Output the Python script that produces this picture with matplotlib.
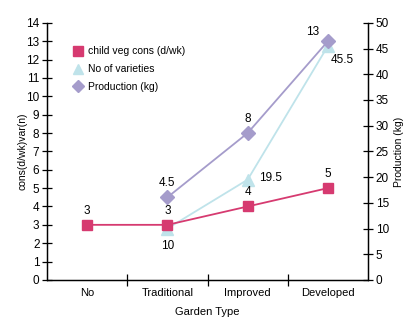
import numpy as np
import matplotlib.pyplot as plt

plt.rcParams['font.family'] = ['Liberation Sans Narrow', 'Liberation Sans', 'DejaVu Sans']

garden = ["No", "Traditional", "Improved", "Developed"]
veg_cons = [3, 3, 4, 5]            # d/wk, left axis
varieties = [None, 10, 19.5, 45.5]  # count, right axis
production = [None, 4.5, 8, 13]     # kg, plotted against left axis

c_cons = "#d63a70"
c_var = "#bfe3ea"
c_prod = "#a59ccb"

fig = plt.figure(figsize=(4.13, 3.27), dpi=100)
ax = fig.add_axes([0.114, 0.144, 0.777, 0.786])
ax2 = ax.twinx()
ax.set_zorder(ax2.get_zorder() + 1)
ax.patch.set_visible(False)

x = np.arange(len(garden))
xv = [i for i, v in zip(x, varieties) if v is not None]
vv = [v for v in varieties if v is not None]
xp = [i for i, v in zip(x, production) if v is not None]
pv = [v for v in production if v is not None]

lv, = ax2.plot(xv, vv, color=c_var, lw=1.3, marker="^", ms=8, label="No of varieties")
lp, = ax.plot(xp, pv, color=c_prod, lw=1.3, marker="D", ms=7, label="Production (kg)")
lc, = ax.plot(x, veg_cons, color=c_cons, lw=1.3, marker="s", ms=7.5, label="child veg cons (d/wk)")

fs = 8.5
for i, v in zip(x, veg_cons):
    ax.annotate(f"{v:g}", (i, v), xytext=(0, 6), textcoords="offset points",
                ha="center", va="bottom", fontsize=fs)
offs_v = [(0, -8, "center", "top"), (8, 1, "left", "center"), (2, -6, "left", "top")]
for i, v, (dx, dy, ha, va) in zip(xv, vv, offs_v):
    ax2.annotate(f"{v:g}", (i, v), xytext=(dx, dy), textcoords="offset points",
                 ha=ha, va=va, fontsize=fs)
offs_p = [(0, 6, "center", "bottom"), (0, 6, "center", "bottom"), (-6, 2, "right", "bottom")]
for i, v, (dx, dy, ha, va) in zip(xp, pv, offs_p):
    ax.annotate(f"{v:g}", (i, v), xytext=(dx, dy), textcoords="offset points",
                ha=ha, va=va, fontsize=fs)

ax.set_xlim(-0.5, 3.5)
ax.set_ylim(0, 14)
ax2.set_ylim(0, 50)
ax.set_yticks(range(0, 15))
ax2.set_yticks(range(0, 51, 5))
ax.set_xticks([0.5, 1.5, 2.5])
ax.set_xticklabels([])
ax.set_xticks(x, minor=True)
ax.set_xticklabels(garden, minor=True, fontsize=8)
ax.tick_params(axis="x", which="minor", length=0, pad=6)
ax.tick_params(axis="x", which="major", direction="inout", length=8, width=0.9)
ax.tick_params(axis="y", direction="inout", length=7, width=0.9, labelsize=fs, pad=2)
ax2.tick_params(axis="y", direction="inout", length=7, width=0.9, labelsize=fs, pad=2)

for a in (ax, ax2):
    a.spines["top"].set_visible(False)
    for s in ("left", "right", "bottom"):
        a.spines[s].set_linewidth(0.9)

ax.set_xlabel("Garden Type", fontsize=8, labelpad=6)
ax.set_ylabel("cons(d/wk)var(n)", fontsize=7.5, labelpad=-1)
ax2.set_ylabel("Production (kg)", fontsize=7.5, labelpad=4)

ax.legend([lc, lv, lp], ["child veg cons (d/wk)", "No of varieties", "Production (kg)"],
          loc="upper left", bbox_to_anchor=(0.05, 0.945), frameon=False, fontsize=7.5,
          handlelength=1.0, handletextpad=0.45, labelspacing=0.75, numpoints=1,
          markerscale=0.9)
for h in ax.get_legend().legend_handles:
    h.set_linestyle("none")

fig.savefig("out.png", dpi=100)
